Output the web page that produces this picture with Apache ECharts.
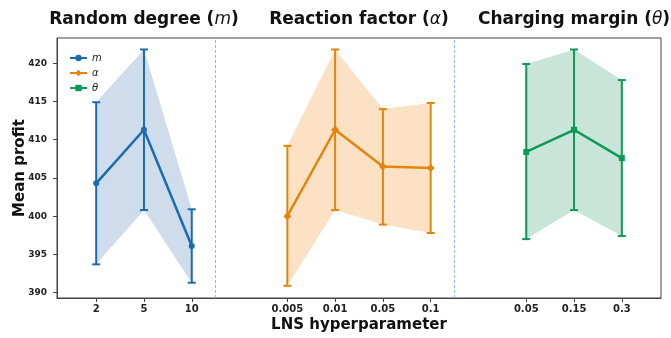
<!DOCTYPE html>
<html>
<head>
<meta charset="utf-8">
<script src="https://cdn.jsdelivr.net/npm/echarts@6/dist/echarts.min.js"></script>
<style>
  html, body { margin: 0; padding: 0; background: #fff; }
  #chart { width: 671px; height: 338px; }
</style>
</head>
<body>
<div id="chart"></div>
<script>
const FONT = 'DejaVu Sans';

// Random degree (m)
const mLabels = ['2', '5', '10'];
const mPos = [0, 1, 2];
const mMean = [404.3, 411.3, 396.1];
const mLow = [393.7, 400.8, 391.3];
const mHigh = [414.9, 421.8, 400.9];

// Reaction factor (alpha)
const alphaLabels = ['0.005', '0.01', '0.05', '0.1'];
const alphaPos = [4, 5, 6, 7];
const alphaMean = [400.0, 411.3, 406.5, 406.3];
const alphaLow = [390.9, 400.8, 398.9, 397.8];
const alphaHigh = [409.2, 421.8, 414.0, 414.8];

// Charging margin (theta)
const thetaLabels = ['0.05', '0.15', '0.3'];
const thetaPos = [9, 10, 11];
const thetaMean = [408.4, 411.3, 407.6];
const thetaLow = [397.0, 400.8, 397.4];
const thetaHigh = [419.9, 421.8, 417.8];

const yTicks = [390, 395, 400, 405, 410, 415, 420];
const separators = [2.5, 7.5];

const groups = [
    { name: 'm', title: 'Random degree (', sym: 'm', pos: mPos, mean: mMean, low: mLow, high: mHigh,
      color: '#1a6bb0', fill: '#cfdcec', symbol: 'circle', size: 6 },
    { name: 'α', title: 'Reaction factor (', sym: 'α', pos: alphaPos, mean: alphaMean, low: alphaLow, high: alphaHigh,
      color: '#e0860a', fill: '#fde1c5', symbol: 'diamond', size: 8 },
    { name: 'θ', title: 'Charging margin (', sym: 'θ', pos: thetaPos, mean: thetaMean, low: thetaLow, high: thetaHigh,
      color: '#0c9a56', fill: '#c9e5d9', symbol: 'rect', size: 6 }
];

const allPos = mPos.concat(alphaPos, thetaPos);
const allLabels = mLabels.concat(alphaLabels, thetaLabels);

function bandSeries(g) {
    return {
        type: 'custom',
        silent: true,
        z: 1,
        data: g.pos.map((p, i) => [p, g.low[i], g.high[i]]),
        encode: { x: 0, y: [1, 2] },
        renderItem: function (params, api) {
            if (params.dataIndex !== 0) return null;
            const pts = [];
            for (let i = 0; i < g.pos.length; i++) pts.push(api.coord([g.pos[i], g.high[i]]));
            for (let i = g.pos.length - 1; i >= 0; i--) pts.push(api.coord([g.pos[i], g.low[i]]));
            return { type: 'polygon', shape: { points: pts }, style: { fill: g.fill } };
        }
    };
}

function errorSeries(g) {
    return {
        type: 'custom',
        silent: true,
        z: 2,
        data: g.pos.map((p, i) => [p, g.low[i], g.high[i]]),
        encode: { x: 0, y: [1, 2] },
        renderItem: function (params, api) {
            const x = api.value(0);
            const top = api.coord([x, api.value(2)]);
            const bot = api.coord([x, api.value(1)]);
            const cap = 4;
            const style = { stroke: g.color, lineWidth: 2 };
            return {
                type: 'group',
                children: [
                    { type: 'line', shape: { x1: top[0], y1: top[1], x2: bot[0], y2: bot[1] }, style: style },
                    { type: 'line', shape: { x1: top[0] - cap, y1: top[1], x2: top[0] + cap, y2: top[1] }, style: style },
                    { type: 'line', shape: { x1: bot[0] - cap, y1: bot[1], x2: bot[0] + cap, y2: bot[1] }, style: style }
                ]
            };
        }
    };
}

function lineSeries(g, idx) {
    const s = {
        name: g.name,
        type: 'line',
        z: 3,
        data: g.pos.map((p, i) => [p, g.mean[i]]),
        symbol: g.symbol,
        symbolSize: g.size,
        showSymbol: true,
        lineStyle: { color: g.color, width: 2.5 },
        itemStyle: { color: g.color },
        emphasis: { disabled: true }
    };
    if (idx === 0) {
        s.markLine = {
            silent: true,
            symbol: ['none', 'none'],
            label: { show: false },
            emphasis: { disabled: true },
            lineStyle: { color: '#8fbde8', type: [3, 2], width: 1, opacity: 1 },
            data: separators.map(v => ({ xAxis: v }))
        };
    }
    return s;
}

const series = [];
groups.forEach((g, i) => {
    series.push(bandSeries(g));
    series.push(errorSeries(g));
    series.push(lineSeries(g, i));
});

const chart = echarts.init(document.getElementById('chart'));
chart.setOption({
    animation: false,
    textStyle: { fontFamily: FONT },
    grid: {
        left: 57, right: 10, top: 38, bottom: 40,
        show: true, borderColor: '#444', borderWidth: 1
    },
    legend: {
        data: groups.map(g => g.name),
        orient: 'vertical',
        left: 64, top: 48,
        itemWidth: 17, itemHeight: 8, itemGap: 5,
        textStyle: { fontFamily: FONT, fontStyle: 'italic', fontSize: 10, lineHeight: 10, color: '#222' }
    },
    xAxis: {
        type: 'value',
        min: -0.82, max: 11.82,
        name: 'LNS hyperparameter',
        nameLocation: 'middle',
        nameGap: 20,
        nameMoveOverlap: false,
        nameTextStyle: { fontFamily: FONT, fontWeight: 'bold', fontSize: 15, color: '#111' },
        splitLine: { show: false },
        axisLine: { onZero: false, lineStyle: { color: '#444', width: 1 } },
        axisTick: { customValues: allPos, length: 4, lineStyle: { color: '#444' } },
        axisLabel: {
            customValues: allPos,
            margin: 6,
            fontFamily: FONT, fontWeight: 'bold', fontSize: 10, color: '#222',
            formatter: v => allLabels[allPos.indexOf(v)]
        }
    },
    yAxis: {
        type: 'value',
        min: 389.3, max: 423.3,
        name: 'Mean profit',
        nameLocation: 'middle',
        nameGap: 29,
        nameMoveOverlap: false,
        nameTextStyle: { fontFamily: FONT, fontWeight: 'bold', fontSize: 15, color: '#111' },
        splitLine: { show: false },
        axisLine: { show: true, onZero: false, lineStyle: { color: '#444', width: 1 } },
        axisTick: { show: true, customValues: yTicks, length: 4, lineStyle: { color: '#444' } },
        axisLabel: {
            customValues: yTicks,
            margin: 10,
            fontFamily: FONT, fontWeight: 'bold', fontSize: 9, color: '#222'
        }
    },
    series: series
});

// group titles centred over each block of categories
const titles = groups.map(g => {
    const mid = (g.pos[0] + g.pos[g.pos.length - 1]) / 2;
    const px = chart.convertToPixel({ xAxisIndex: 0 }, mid);
    return {
        type: 'text',
        x: px, y: 20,
        style: {
            text: '{b|' + g.title + '}{i|' + g.sym + '}{b|)}',
            align: 'center',
            verticalAlign: 'middle',
            rich: {
                b: { fontFamily: FONT, fontWeight: 'bold', fontSize: 17, fill: '#111' },
                i: { fontFamily: FONT, fontStyle: 'italic', fontSize: 17, fill: '#111' }
            }
        }
    };
});
chart.setOption({ graphic: titles });
</script>
</body>
</html>
